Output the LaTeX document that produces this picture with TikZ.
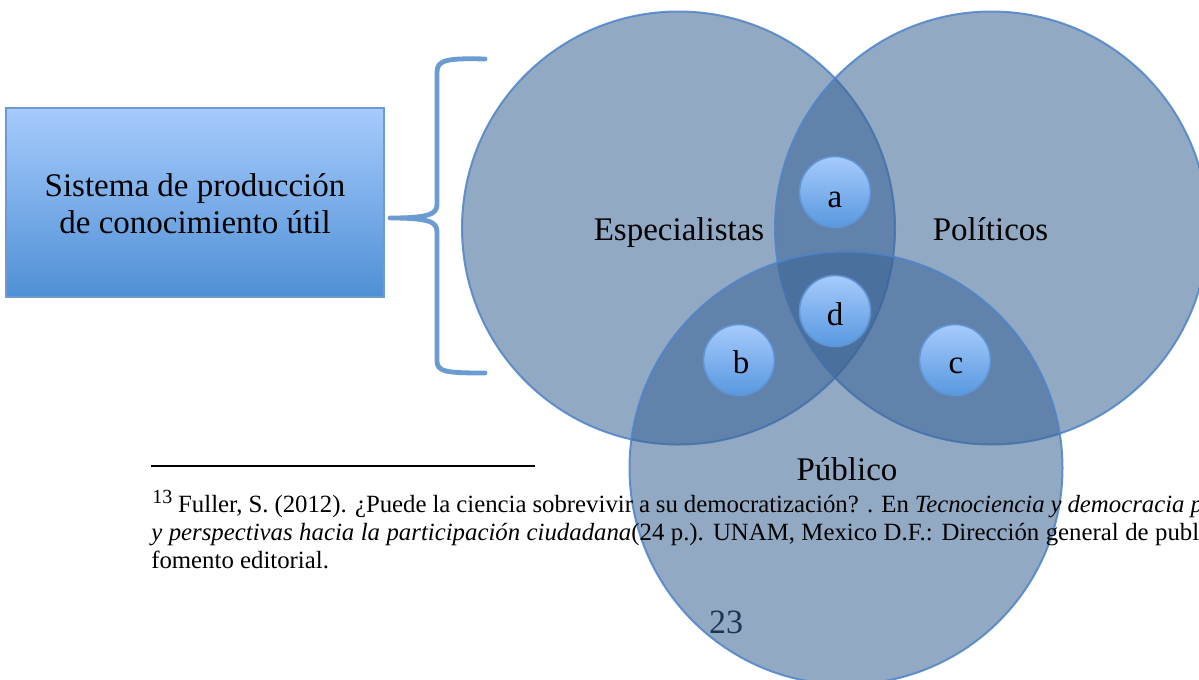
\documentclass[tikz,border=0pt]{standalone}
\usepackage{fontspec}
\setmainfont{Liberation Serif}
\definecolor{vennfill}{RGB}{56,98,148}
\definecolor{venndraw}{RGB}{79,132,200}
\definecolor{boxtop}{RGB}{166,203,253}
\definecolor{boxbot}{RGB}{79,144,213}
\definecolor{boxline}{RGB}{107,155,208}
\definecolor{balltop}{RGB}{166,203,252}
\definecolor{ballbot}{RGB}{88,152,224}
\definecolor{ballline}{RGB}{96,148,210}
\definecolor{bracec}{RGB}{106,155,209}
\newcommand{\bigtxt}{\fontsize{24.75}{28}\selectfont}
\newcommand{\fntxt}{\fontsize{18.6}{21}\selectfont}
\newcommand{\fnmark}{\raisebox{6.75pt}{\fontsize{15}{15}\selectfont 13}}
\tikzset{
  venn/.style={circle, inner sep=0pt, minimum size=324.75pt, fill=vennfill, fill opacity=0.55, draw=venndraw, draw opacity=0.85, line width=1.5pt},
  ball/.style={circle, inner sep=0pt, minimum size=53.25pt, top color=balltop, bottom color=ballbot, draw=ballline, line width=1.2pt},
  lbl/.style={anchor=base, inner sep=0pt, font=\bigtxt},
  sysbox/.style={rectangle, inner sep=0pt, minimum width=283.5pt, minimum height=141.75pt, top color=boxtop, bottom color=boxbot, draw=boxline, line width=1pt},
  fnline/.style={anchor=base west, inner sep=0pt, font=\fntxt}
}
\begin{document}
\begin{tikzpicture}[x=0.75pt,y=-0.75pt]
\useasboundingbox (0,0) rectangle (1199,679);
\clip (0,0) rectangle (1199,679);
% box
\node[sysbox] (sys) at (195,202.5) {};
\node[lbl] (sys1) at (195,196) {Sistema de producción};
\node[lbl] (sys2) at (195,233) {de conocimiento útil};
% brace
\draw[bracec, line width=3.6pt, line cap=round, line join=round]
  (485,59) .. controls (447,58) and (437,60) .. (437,72) -- (437,204)
  .. controls (437,214) and (430,218) .. (390,218)
  .. controls (430,218) and (437,222) .. (437,232) -- (437,361)
  .. controls (437,372) and (447,373) .. (485,373);
% page number (under the circles)
\node[lbl, font=\fontsize{25.5}{28}\selectfont] (page) at (726,633) {23};
% venn circles
\node[venn] (esp) at (678.5,228) {};
\node[venn] (pol) at (991.5,228) {};
\node[venn] (pub) at (846,468) {};
% small circles
\node[ball] (a) at (835,192) {};
\node[ball] (d) at (835,311) {};
\node[ball] (b) at (739,360) {};
\node[ball] (c) at (955,360) {};
\node[lbl] (la) at (835,207) {a};
\node[lbl] (ld) at (835,325) {d};
\node[lbl] (lb) at (741,373) {b};
\node[lbl] (lc) at (956,373) {c};
% labels
\node[lbl] (lesp) at (679,240) {Especialistas};
\node[lbl] (lpol) at (990.5,240) {Políticos};
\node[lbl] (lpub) at (847,480) {Público};
% footnote
\coordinate (r1) at (151,466);
\coordinate (r2) at (535,466);
\draw[line width=1.6pt] (r1) -- (r2);
\node[fnline] (fn1) at (152,512) {\hbox to 788pt{\fnmark\ Fuller, S. (2012). ¿Puede la ciencia sobrevivir a su democratización? . En \textit{Tecnociencia y democracia p}}};
\node[fnline] (fn2) at (151,540) {\hbox to 786pt{\textit{y perspectivas hacia la participación ciudadana}(24 p.). UNAM, Mexico D.F.: Dirección general de publ}};
\node[fnline] (fn3) at (151,568) {fomento editorial.};
\end{tikzpicture}
\end{document}
